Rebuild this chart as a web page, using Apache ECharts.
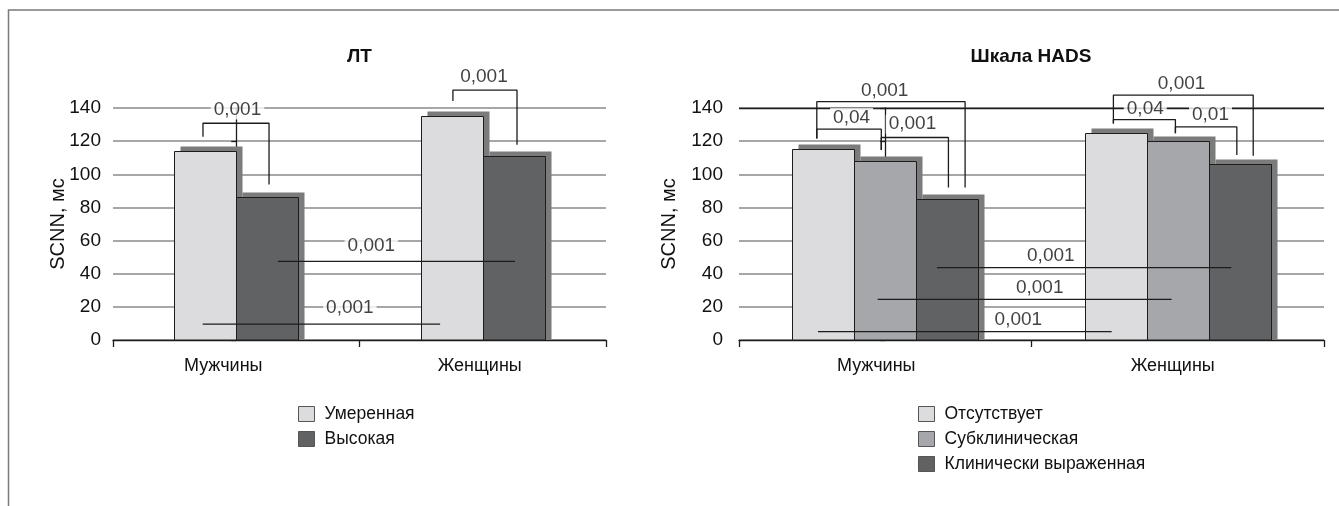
<!DOCTYPE html>
<html><head><meta charset="utf-8">
<script src="https://cdn.jsdelivr.net/npm/echarts@6/dist/echarts.min.js"></script>
<style>html,body{margin:0;padding:0;background:#fff}#c{width:1339px;height:506px}</style>
</head><body><div id="c"></div>
<script>
// ---------- data ----------
const categories = ['Мужчины', 'Женщины'];
const yTicks = [0, 20, 40, 60, 80, 100, 120, 140];
const axisName = 'SCNN, мс';

const ltTitle = 'ЛТ';
const ltNames = ['Умеренная', 'Высокая'];
const ltModerate = [114, 135];
const ltHigh = [86, 111];

const hadsTitle = 'Шкала HADS';
const hadsNames = ['Отсутствует', 'Субклиническая', 'Клинически выраженная'];
const hadsAbsent = [115, 125];
const hadsSubclinical = [108, 120];
const hadsClinical = [85, 106];

// significance brackets: [xLeft, yLeftEnd, xRight, yRightEnd, yTop]  (x in category units)
const ltBrackets = [
  [-0.135, 122.6, 0.133, 93.8, 130.8],
  [0.879, 144.2, 1.139, 117.8, 150.8]
];
// horizontal comparison lines: [xFrom, xTo, y]
const ltSpans = [
  [0.169, 1.131, 47.5],
  [-0.136, 0.827, 9.6]
];
// p-value labels: [x, y, text]
const ltPLabels = [
  [0.005, 138.8, '0,001'],
  [1.005, 158.7, '0,001'],
  [0.548, 56.7, '0,001'],
  [0.461, 19.2, '0,001']
];

const hadsBrackets = [
  [-0.234, 121.6, 0.273, 92.1, 143.8],
  [-0.234, 121.6, -0.0135, 114.6, 127.2],
  [-0.0135, 114.6, 0.216, 92.1, 122.2],
  [0.780, 130.6, 1.258, 111.2, 147.8],
  [0.780, 130.6, 0.992, 124.8, 133.0],
  [0.992, 124.8, 1.202, 111.6, 128.6]
];
const hadsSpans = [
  [0.177, 1.183, 43.7],
  [-0.026, 0.979, 24.5],
  [-0.230, 0.774, 5.0]
];
const hadsPLabels = [
  [-0.002, 150.7, '0,001'],
  [-0.115, 134.2, '0,04'],
  [0.093, 130.2, '0,001'],
  [1.013, 154.6, '0,001'],
  [0.889, 139.8, '0,04'],
  [1.112, 136.2, '0,01'],
  [0.566, 51.1, '0,001'],
  [0.528, 31.7, '0,001'],
  [0.455, 12.4, '0,001']
];

// ---------- styles ----------
const FONT = "'Liberation Sans', Arial, sans-serif";
const INK = '#1c1c1c';
const TXT = '#111';
const colLight = '#dcdcde';
const colMid = '#a6a7aa';
const colDark = '#616264';
const colShadow = '#7b7b7b';
const BAR_W = 62;
const SH_X = 6, SH_Y = 5;
// category-label nudges (px to the left) per grid
const labelNudge = [[13, 3], [9, 5]];

const grids = [
  { left: 113, top: 108, width: 493, height: 232 },
  { left: 739, top: 108, width: 585, height: 232 }
];

function barSeries(name, values, color, g, i, n) {
  return {
    type: 'custom', name: name,
    data: values.map((v, k) => [k, v]),
    encode: { x: 0, y: 1 },
    xAxisIndex: 2 * g, yAxisIndex: g,
    itemStyle: { color: color },
    clip: false, silent: true, z: 2,
    renderItem: function (params, api) {
      const cat = api.value(0);
      const base = api.coord([cat, 0]);
      const top = api.coord([cat, api.value(1)]);
      const x = Math.round(base[0] + (i - (n - 1) / 2) * BAR_W - BAR_W / 2) + 0.5;
      const yT = Math.round(top[1]) + 0.5;
      const yB = Math.round(base[1]);
      return {
        type: 'group',
        children: [
          { type: 'rect', shape: { x: x + SH_X, y: yT - SH_Y, width: BAR_W, height: yB - yT + SH_Y },
            style: { fill: colShadow } },
          { type: 'rect', shape: { x: x, y: yT, width: BAR_W, height: yB - yT },
            style: { fill: color, stroke: INK, lineWidth: 1 } }
        ]
      };
    }
  };
}
function lineSeries(points, g) {
  return {
    type: 'line', data: points, xAxisIndex: 2 * g + 1, yAxisIndex: g,
    symbol: 'none', clip: false, silent: true, z: 5,
    lineStyle: { color: INK, width: 1.3 }
  };
}
function annotationSeries(brackets, spans, labels, g) {
  const out = [];
  brackets.forEach(b => out.push(lineSeries([[b[0], b[1]], [b[0], b[4]], [b[2], b[4]], [b[2], b[3]]], g)));
  spans.forEach(s => out.push(lineSeries([[s[0], s[2]], [s[1], s[2]]], g)));
  out.push({
    type: 'scatter', data: labels, xAxisIndex: 2 * g + 1, yAxisIndex: g,
    symbolSize: 1, itemStyle: { color: 'rgba(0,0,0,0)' }, clip: false, silent: true, z: 6,
    label: {
      show: true, position: 'inside', formatter: p => p.data[2],
      fontSize: 19, color: TXT, fontFamily: FONT,
      backgroundColor: '#fff', padding: [0, 3]
    }
  });
  return out;
}

const xAxes = [];
const yAxes = [];
[0, 1].forEach(g => {
  xAxes.push({
    type: 'category', gridIndex: g, data: categories,
    axisLine: { lineStyle: { color: INK, width: 1.3 } },
    axisTick: { show: true, length: 7, lineStyle: { color: INK, width: 1.3 } },
    axisLabel: {
      fontSize: 18, color: TXT, margin: 17, fontFamily: FONT,
      formatter: (v, idx) => '{c' + idx + '|' + v + '}',
      rich: {
        c0: { fontSize: 18, color: TXT, fontFamily: FONT, padding: [0, 2 * labelNudge[g][0], 0, 0] },
        c1: { fontSize: 18, color: TXT, fontFamily: FONT, padding: [0, 2 * labelNudge[g][1], 0, 0] }
      }
    }
  });
  xAxes.push({ type: 'value', gridIndex: g, min: -0.5, max: 1.5, show: false });
  yAxes.push({
    type: 'value', gridIndex: g, min: yTicks[0], max: yTicks[yTicks.length - 1], interval: yTicks[1] - yTicks[0],
    name: axisName, nameLocation: 'middle', nameGap: g === 0 ? 45 : 60, nameMoveOverlap: false,
    nameTextStyle: { fontSize: 20, color: TXT, fontFamily: FONT },
    axisLine: { show: true, lineStyle: { color: INK, width: 1.3 } },
    axisTick: { show: true, length: 5, lineStyle: { color: INK, width: 1.3 } },
    axisLabel: { fontSize: 19, color: TXT, margin: g === 0 ? 12 : 16, fontFamily: FONT },
    splitLine: { lineStyle: { color: '#8a8a8a', width: 1.5 } }
  });
});

const ltAnn = annotationSeries(ltBrackets, ltSpans, ltPLabels, 0);
const hadsAnn = annotationSeries(hadsBrackets, hadsSpans, hadsPLabels, 1);
hadsAnn[0].markLine = {
  silent: true, symbol: 'none', label: { show: false },
  lineStyle: { color: INK, width: 1.3, type: 'solid' },
  data: [{ yAxis: yTicks[yTicks.length - 1] }]
};

const series = [
  barSeries(ltNames[0], ltModerate, colLight, 0, 0, 2),
  barSeries(ltNames[1], ltHigh, colDark, 0, 1, 2),
  barSeries(hadsNames[0], hadsAbsent, colLight, 1, 0, 3),
  barSeries(hadsNames[1], hadsSubclinical, colMid, 1, 1, 3),
  barSeries(hadsNames[2], hadsClinical, colDark, 1, 2, 3)
].concat(ltAnn).concat(hadsAnn);

function legend(names, left) {
  return {
    data: names, orient: 'vertical', left: left, top: 405, padding: 0,
    itemWidth: 16, itemHeight: 15, itemGap: 7, icon: 'rect', selectedMode: false,
    textStyle: { fontSize: 17.5, color: TXT, fontFamily: FONT, padding: [0, 0, 0, 5] },
    itemStyle: { borderColor: '#555', borderWidth: 1 }
  };
}

const option = {
  animation: false,
  backgroundColor: '#fff',
  textStyle: { fontFamily: FONT },
  title: [
    { text: ltTitle, left: 359.5, top: 47, textAlign: 'center', padding: 0,
      textStyle: { fontSize: 19, fontWeight: 'bold', color: TXT, fontFamily: FONT } },
    { text: hadsTitle, left: 1031, top: 47, textAlign: 'center', padding: 0,
      textStyle: { fontSize: 19, fontWeight: 'bold', color: TXT, fontFamily: FONT } }
  ],
  legend: [legend(ltNames, 298), legend(hadsNames, 918)],
  grid: grids,
  xAxis: xAxes,
  yAxis: yAxes,
  series: series,
  graphic: [{
    type: 'polyline', silent: true, z: 100,
    shape: { points: [[8.5, 506], [8.5, 10], [1339, 10]] },
    style: { stroke: '#7a7a7a', lineWidth: 1.5, fill: null }
  }]
};

const chart = echarts.init(document.getElementById('c'), null, { renderer: 'canvas' });
chart.setOption(option);
</script>
</body></html>
